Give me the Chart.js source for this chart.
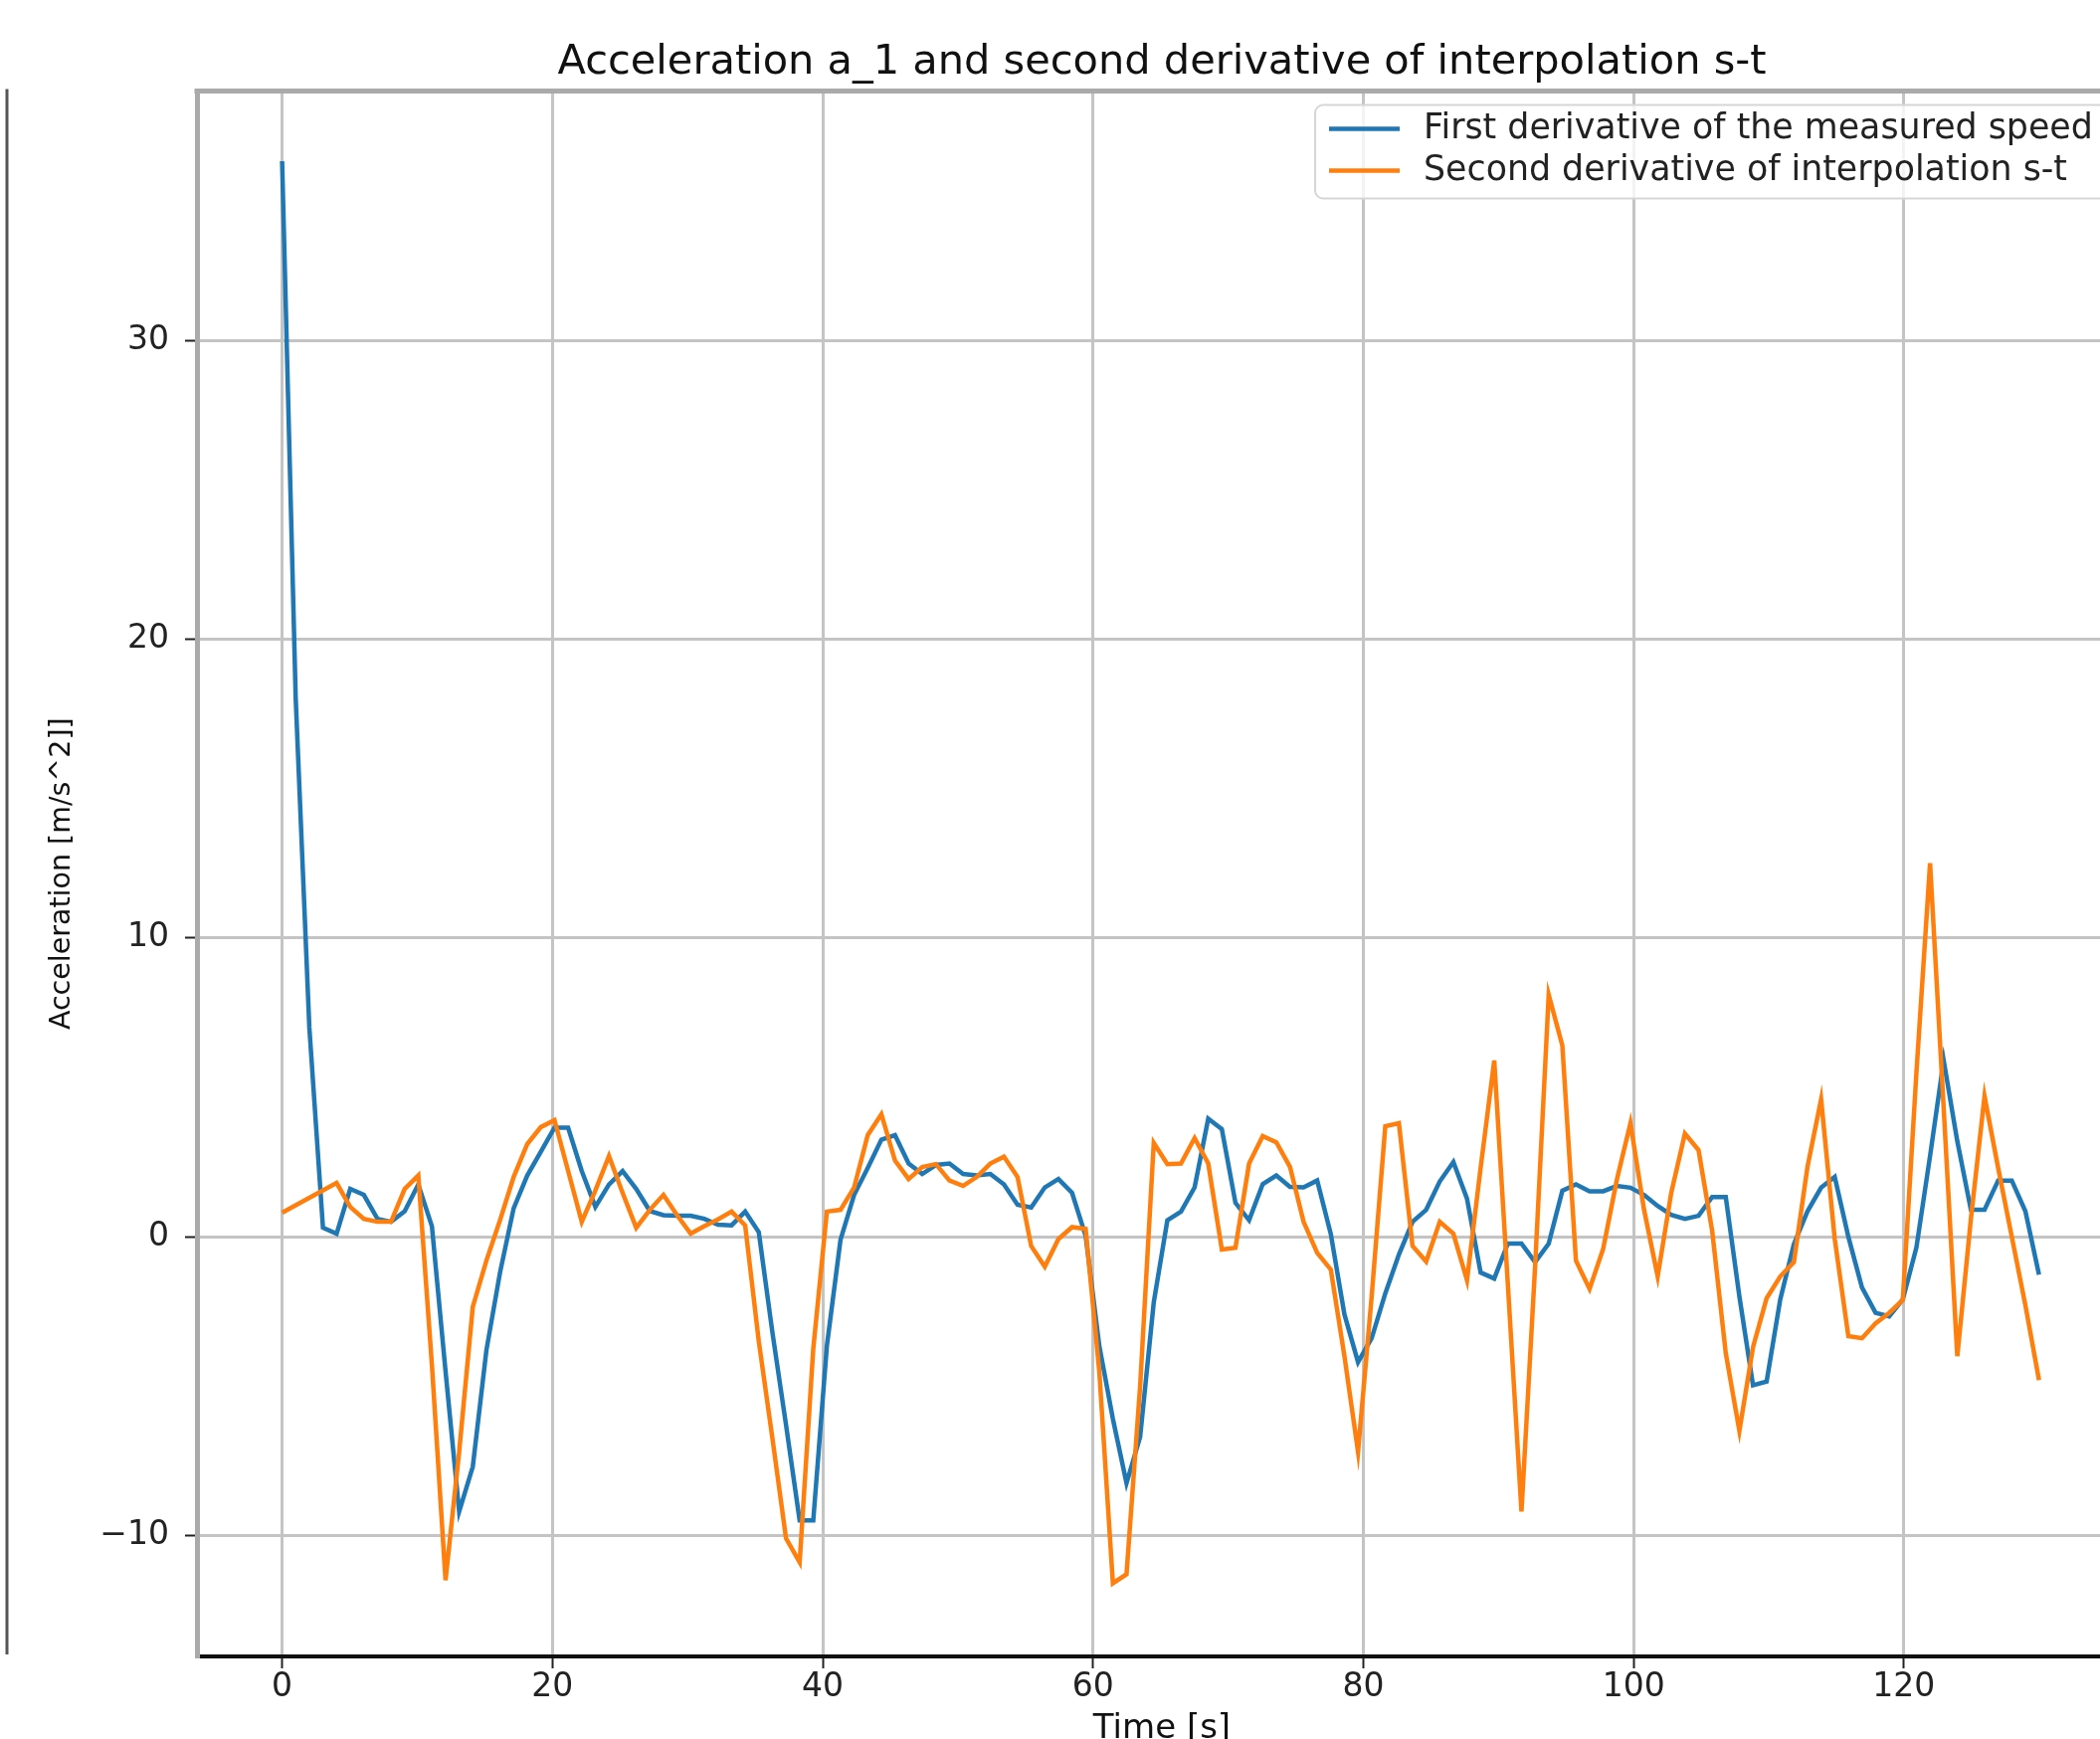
<!DOCTYPE html>
<html>
<head>
<meta charset="utf-8">
<title>Acceleration a_1</title>
<script src="https://cdn.jsdelivr.net/npm/chart.js@4.4.1/dist/chart.umd.min.js"></script>
<style>
    html, body { margin: 0; padding: 0; background: #fff; overflow: hidden; }
    #wrap { position: relative; width: 2160px; height: 1790px; }
</style>
</head>
<body>
<div id="wrap"><canvas id="accChart"></canvas></div>
<script>
// 130 samples spread over 0..130 s (numpy linspace style)
const tStart = 0;
const tEnd = 130;
const nSamples = 130;
const timeS = Array.from({ length: nSamples }, (_, i) => tStart + i * (tEnd - tStart) / (nSamples - 1));

// First derivative of the measured speed [m/s^2]
const accMeasured = [
    36.0, 18.0, 7.0, 0.3, 0.1, 1.6, 1.4, 0.6, 0.5, 0.85,
    1.75, 0.35, -4.5, -9.2, -7.7, -3.8, -1.2, 0.95, 2.05, 2.85,
    3.65, 3.65, 2.2, 1.0, 1.75, 2.2, 1.6, 0.86, 0.72, 0.7,
    0.7, 0.6, 0.4, 0.38, 0.84, 0.15, -3.2, -6.3, -9.5, -9.5,
    -3.65, -0.1, 1.4, 2.3, 3.25, 3.4, 2.45, 2.1, 2.4, 2.45,
    2.1, 2.05, 2.1, 1.75, 1.07, 0.98, 1.65, 1.93, 1.47, 0.03,
    -3.65, -6.1, -8.25, -6.7, -2.2, 0.55, 0.84, 1.65, 3.95, 3.6,
    1.13, 0.55, 1.76, 2.05, 1.67, 1.65, 1.88, 0.09, -2.6, -4.2,
    -3.4, -1.9, -0.6, 0.5, 0.9, 1.85, 2.5, 1.27, -1.2, -1.4,
    -0.23, -0.23, -0.85, -0.23, 1.54, 1.75, 1.52, 1.52, 1.7, 1.64,
    1.4, 1.03, 0.73, 0.6, 0.7, 1.33, 1.33, -2.0, -4.97, -4.85,
    -2.1, -0.25, 0.85, 1.64, 2.0, 0.0, -1.7, -2.55, -2.67, -2.1,
    -0.36, 2.7, 5.9, 3.2, 0.9, 0.9, 1.88, 1.88, 0.85, -1.27
];

// Second derivative of interpolation s-t [m/s^2]
const accInterp = [
    0.8, 1.05, 1.3, 1.55, 1.8, 1.0, 0.6, 0.5, 0.5, 1.6,
    2.05, -4.3, -11.5, -7.2, -2.35, -0.8, 0.55, 2.0, 3.1, 3.67,
    3.9, 2.2, 0.5, 1.55, 2.7, 1.47, 0.3, 0.9, 1.4, 0.72,
    0.1, 0.35, 0.58, 0.84, 0.38, -3.5, -6.75, -10.1, -10.9, -3.75,
    0.84, 0.9, 1.65, 3.4, 4.1, 2.55, 1.93, 2.33, 2.43, 1.88,
    1.7, 2.0, 2.45, 2.68, 2.0, -0.31, -1.0, -0.08, 0.32, 0.26,
    -4.5, -11.6, -11.3, -5.0, 3.14, 2.43, 2.45, 3.3, 2.45, -0.43,
    -0.37, 2.45, 3.37, 3.16, 2.34, 0.5, -0.54, -1.1, -4.0, -7.2,
    -2.0, 3.7, 3.8, -0.31, -0.83, 0.5, 0.1, -1.46, 2.3, 5.9,
    -1.6, -9.2, -1.0, 8.1, 6.4, -0.8, -1.75, -0.4, 1.9, 3.8,
    0.9, -1.33, 1.48, 3.45, 2.9, 0.2, -3.9, -6.5, -3.7, -2.06,
    -1.33, -0.85, 2.34, 4.6, -0.07, -3.33, -3.4, -2.9, -2.55, -2.12,
    5.5, 12.5, 4.3, -4.0, 0.6, 4.7, 2.3, 0.0, -2.3, -4.8
];

const seriesLabels = ['First derivative of the measured speed', 'Second derivative of interpolation s-t'];
const blue = '#1f77b4';
const orange = '#ff7f0e';
const gridColor = '#c4c4c4';
const fontFamily = "'DejaVu Sans', sans-serif";

// top spine + the edge of the neighbouring subplot at the far left
const framePlugin = {
    id: 'frame',
    afterDraw(chart) {
        const { ctx, chartArea } = chart;
        ctx.save();
        ctx.strokeStyle = '#aaaaaa';
        ctx.lineWidth = 5;
        ctx.beginPath();
        ctx.moveTo(chartArea.left - 2.5, chartArea.top);
        ctx.lineTo(chartArea.right, chartArea.top);
        ctx.stroke();
        ctx.strokeStyle = '#555555';
        ctx.lineWidth = 3;
        ctx.beginPath();
        ctx.moveTo(7, chartArea.top - 2);
        ctx.lineTo(7, chartArea.bottom - 2);
        ctx.stroke();
        ctx.restore();
    }
};

// legend box in the upper right corner, as matplotlib draws it
const boxLegend = {
    id: 'boxLegend',
    afterDraw(chart) {
        const { ctx, chartArea } = chart;
        const x0 = 1322, y0 = chartArea.top + 14, w = 810, h = 94, r = 8;
        ctx.save();
        ctx.beginPath();
        ctx.roundRect(x0, y0, w, h, r);
        ctx.fillStyle = 'rgba(255, 255, 255, 0.8)';
        ctx.fill();
        ctx.strokeStyle = '#d6d6d6';
        ctx.lineWidth = 2;
        ctx.stroke();
        ctx.font = '34.8px ' + fontFamily;
        ctx.textBaseline = 'middle';
        chart.data.datasets.forEach((ds, i) => {
            const y = y0 + 24 + i * 42;
            ctx.strokeStyle = ds.borderColor;
            ctx.lineWidth = 4.5;
            ctx.beginPath();
            ctx.moveTo(x0 + 14, y);
            ctx.lineTo(x0 + 85, y);
            ctx.stroke();
            ctx.fillStyle = '#222';
            ctx.fillText(ds.label, x0 + 109, y);
        });
        ctx.restore();
    }
};

function initAccelerationChart() {
    const canvas = document.getElementById('accChart');
    if (!canvas) return;
    new Chart(canvas, {
        type: 'line',
        data: {
            labels: timeS,
            datasets: [{
                label: seriesLabels[0],
                data: accMeasured,
                borderColor: blue,
                backgroundColor: blue,
                borderWidth: 4.5,
                pointRadius: 0,
                tension: 0,
                order: 1,
            }, {
                label: seriesLabels[1],
                data: accInterp,
                borderColor: orange,
                backgroundColor: orange,
                borderWidth: 4.5,
                pointRadius: 0,
                tension: 0,
                order: 0,
            }],
        },
        options: {
            responsive: true,
            maintainAspectRatio: false,
            animation: false,
            layout: { padding: { left: 0, right: 22, top: 0, bottom: 0 } },
            plugins: {
                legend: { display: false },
                tooltip: { enabled: false },
                title: {
                    display: true,
                    fullSize: false,
                    text: 'Acceleration a_1 and second derivative of interpolation s-t',
                    color: '#111',
                    font: { family: fontFamily, size: 41.5, weight: 'normal' },
                    padding: { top: 38.5, bottom: 3.2 },
                },
            },
            scales: {
                x: {
                    type: 'linear',
                    min: -6.3,
                    max: 136.5,
                    afterFit: (scale) => { scale.height = 125; },
                    ticks: {
                        stepSize: 20,
                        includeBounds: false,
                        maxRotation: 0,
                        padding: 0,
                        color: '#222',
                        font: { family: fontFamily, size: 33 },
                    },
                    grid: { color: gridColor, lineWidth: 3, tickColor: '#222', tickLength: 12, tickWidth: 2 },
                    border: { display: true, color: '#111', width: 4 },
                    title: {
                        display: true,
                        text: 'Time [s]',
                        color: '#111',
                        font: { family: fontFamily, size: 34 },
                        padding: { top: 0, bottom: 31 },
                    },
                },
                y: {
                    min: -14.05,
                    max: 38.35,
                    afterFit: (scale) => { scale.width = 198; },
                    ticks: {
                        stepSize: 10,
                        includeBounds: false,
                        padding: 16,
                        color: '#222',
                        font: { family: fontFamily, size: 33 },
                        callback: (v) => (v < 0 ? '\u2212' + Math.abs(v) : String(v)),
                    },
                    grid: { color: gridColor, lineWidth: 3, tickColor: '#222', tickLength: 12, tickWidth: 2 },
                    border: { display: true, color: '#aaaaaa', width: 5 },
                    title: {
                        display: true,
                        text: 'Acceleration [m/s^2]]',
                        color: '#111',
                        font: { family: fontFamily, size: 28.5 },
                        padding: { top: 45, bottom: 0 },
                    },
                },
            },
        },
        plugins: [framePlugin, boxLegend],
    });
}

document.addEventListener('DOMContentLoaded', () => {
    initAccelerationChart();
});
</script>
</body>
</html>
